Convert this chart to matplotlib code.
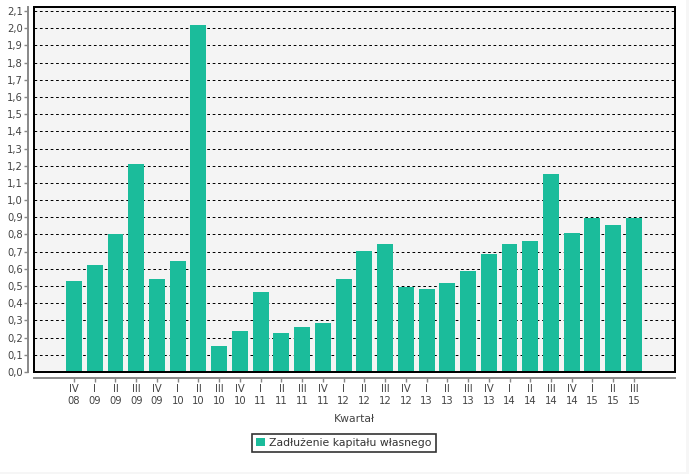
import matplotlib
matplotlib.use("Agg")
import matplotlib.pyplot as plt
from matplotlib.patches import Rectangle

quarters = ["IV", "I", "II", "III", "IV", "I", "II", "III", "IV", "I", "II", "III", "IV",
            "I", "II", "III", "IV", "I", "II", "III", "IV", "I", "II", "III", "IV",
            "I", "II", "III"]
years = ["08", "09", "09", "09", "09", "10", "10", "10", "10", "11", "11", "11", "11",
         "12", "12", "12", "12", "13", "13", "13", "13", "14", "14", "14", "14",
         "15", "15", "15"]
values = [0.53, 0.62, 0.80, 1.21, 0.54, 0.645, 2.02, 0.15, 0.24, 0.465, 0.227, 0.262, 0.285,
          0.541, 0.704, 0.745, 0.494, 0.483, 0.518, 0.588, 0.686, 0.745, 0.762, 1.152, 0.809,
          0.896, 0.855, 0.896]
labels = [f"{q}\n{y}" for q, y in zip(quarters, years)]
yticks = [i / 10 for i in range(22)]
series_name = "Zadłużenie kapitału własnego"
xlabel = "Kwartał"

W, H = 689, 474
fig = plt.figure(figsize=(W / 100, H / 100), dpi=100)
fig.patch.set_facecolor("#f6f6f6")
fig.patches.append(Rectangle((0, 2 / H), 686 / W, 1 - 2 / H, transform=fig.transFigure,
                             facecolor="white", edgecolor="none", zorder=-10))

ax = fig.add_axes([34 / W, (H - 372) / H, (675 - 34) / W, (372 - 7) / H])
ax.set_facecolor("#f4f4f4")

x = list(range(len(values)))
ax.bar(x, values, width=0.77, color="#1BBC9B", zorder=3, label=series_name)

ax.set_xlim(-1.93, 28.98)
ax.set_ylim(0, 2.1233)
ax.set_yticks(yticks)
ax.set_yticklabels([f"{v:.1f}".replace(".", ",") for v in yticks])
ax.set_xticks(x)
ax.set_xticklabels(labels, linespacing=1.45)

for v in yticks[1:]:
    ax.axhline(v, color="black", lw=0.72, ls=(0, (2.7, 2.7)), zorder=2)

# black frame around plot area
ax.add_patch(Rectangle((0, 0), 1, 1, transform=ax.transAxes, fill=False,
                       edgecolor="black", lw=1.44, zorder=5, clip_on=False))

for s in ["top", "right"]:
    ax.spines[s].set_visible(False)
for s in ["left", "bottom"]:
    ax.spines[s].set_position(("outward", 4))
    ax.spines[s].set_color("#888888")
    ax.spines[s].set_linewidth(1.4)

ax.tick_params(axis="y", length=3, width=1, color="#888888", labelsize=7.2, labelcolor="#444444", pad=1)
ax.tick_params(axis="x", length=3, width=1, color="#888888", labelsize=7.2, labelcolor="#444444", pad=2)

ax.set_xlabel(xlabel, fontsize=7.8, color="#444444", labelpad=6)

leg = fig.legend(loc="center", bbox_to_anchor=(344 / W, (H - 443) / H), fontsize=7.8,
                 frameon=True, fancybox=False, edgecolor="black", handlelength=0.8,
                 handleheight=0.8, handletextpad=0.4, borderpad=0.35, labelcolor="#333333")
leg.get_frame().set_linewidth(1.2)

fig.savefig("out.png", dpi=100)
